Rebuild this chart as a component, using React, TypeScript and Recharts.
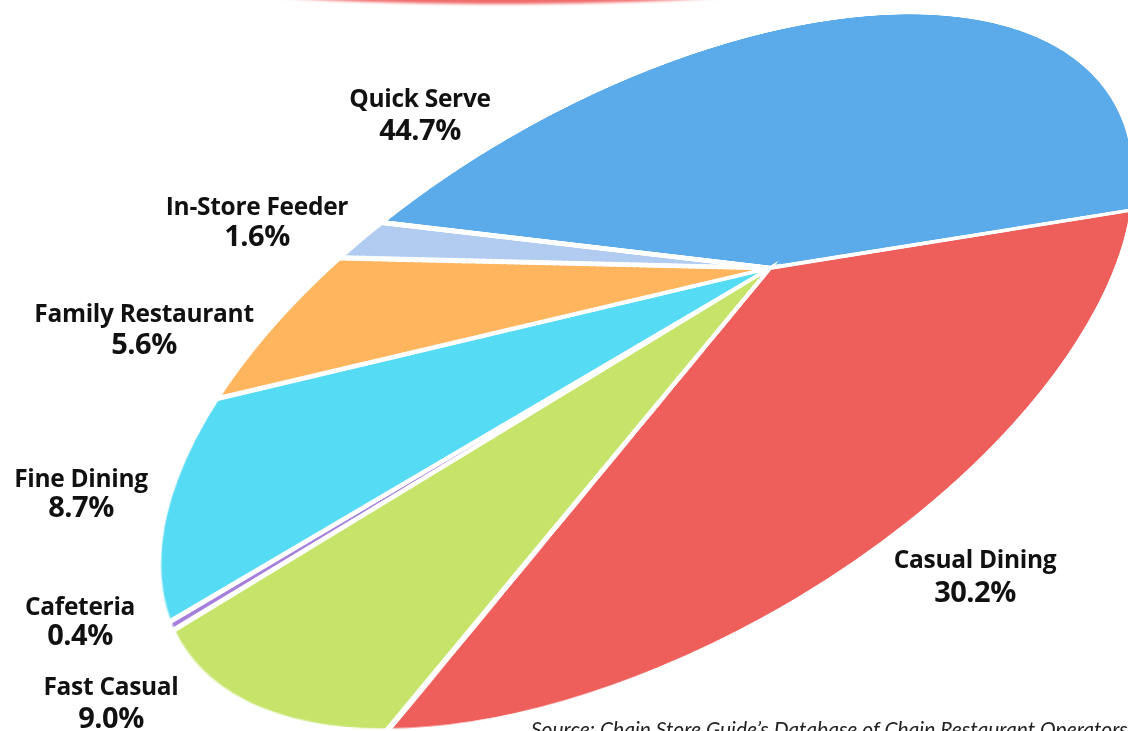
import React from 'react';
import { PieChart, Pie, Cell } from 'recharts';

// restaurant segments, share of units (%)
const segments = ['Quick Serve', 'Casual Dining', 'Fast Casual', 'Cafeteria', 'Fine Dining', 'Family Restaurant', 'In-Store Feeder'];
const shares = [44.7, 30.2, 9.0, 0.4, 8.7, 5.6, 1.6];
const colors = ['#5BAAE9', '#EE5E5A', '#C6E46A', '#A57FDB', '#55DBF4', '#FFB55E', '#B2CBF1'];

// label anchors (centre x, baseline of name, baseline of value)
const labelPos: [number, number, number][] = [
  [420, 107, 140],
  [975, 568, 602],
  [111, 695, 728],
  [80, 615, 645],
  [81, 487, 517],
  [144, 322, 354],
  [257, 215, 246],
];

const SOURCE = 'Source: Chain Store Guide\u2019s Database of Chain Restaurant Operators';

// the pie is shown tilted in perspective: outline ellipse + apex where slices meet
const ELL = { cx: 645, cy: 373, a: 543, b: 273, rot: (-30 * Math.PI) / 180 };
const APEX = [770, 268];
const FIRST_EDGE = [386, 223];

const SIZE = 600;
const C = SIZE / 2;
const R = 290;

type V3 = [number, number, number];
const cross = (p: V3, q: V3): V3 => [p[1] * q[2] - p[2] * q[1], p[2] * q[0] - p[0] * q[2], p[0] * q[1] - p[1] * q[0]];

function rayHit(px: number, py: number, dx: number, dy: number) {
  const c = Math.cos(ELL.rot), s = Math.sin(ELL.rot);
  const lx = (px - ELL.cx) * c + (py - ELL.cy) * s;
  const ly = -(px - ELL.cx) * s + (py - ELL.cy) * c;
  const ldx = dx * c + dy * s, ldy = -dx * s + dy * c;
  const A2 = ELL.a * ELL.a, B2 = ELL.b * ELL.b;
  const qa = (ldx * ldx) / A2 + (ldy * ldy) / B2;
  const qb = 2 * ((lx * ldx) / A2 + (ly * ldy) / B2);
  const qc = (lx * lx) / A2 + (ly * ly) / B2 - 1;
  const t = (-qb + Math.sqrt(qb * qb - 4 * qa * qc)) / (2 * qa);
  return [px + t * dx, py + t * dy];
}

function conic() {
  const c = Math.cos(ELL.rot), s = Math.sin(ELL.rot);
  const A2 = ELL.a * ELL.a, B2 = ELL.b * ELL.b;
  const q11 = (c * c) / A2 + (s * s) / B2;
  const q12 = (c * s) / A2 - (s * c) / B2;
  const q22 = (s * s) / A2 + (c * c) / B2;
  const g0 = q11 * ELL.cx + q12 * ELL.cy;
  const g1 = q12 * ELL.cx + q22 * ELL.cy;
  return [
    [q11, q12, -g0],
    [q12, q22, -g1],
    [-g0, -g1, ELL.cx * g0 + ELL.cy * g1 - 1],
  ];
}

function solve(A: number[][], b: number[]) {
  const n = b.length;
  const m = A.map((row, i) => [...row, b[i]]);
  for (let i = 0; i < n; i++) {
    let p = i;
    for (let k = i + 1; k < n; k++) if (Math.abs(m[k][i]) > Math.abs(m[p][i])) p = k;
    [m[i], m[p]] = [m[p], m[i]];
    for (let k = 0; k < n; k++) {
      if (k === i) continue;
      const f = m[k][i] / m[i][i];
      for (let j = i; j <= n; j++) m[k][j] -= f * m[i][j];
    }
  }
  return m.map((row, i) => row[n] / row[i]);
}

function perspective() {
  const M = conic();
  const tangent = (p: number[]): V3 => [
    M[0][0] * p[0] + M[0][1] * p[1] + M[0][2],
    M[1][0] * p[0] + M[1][1] * p[1] + M[1][2],
    M[2][0] * p[0] + M[2][1] * p[1] + M[2][2],
  ];
  const [px, py] = APEX;
  const d1 = [FIRST_EDGE[0] - px, FIRST_EDGE[1] - py];
  const e1 = rayHit(px, py, d1[0], d1[1]);
  const e2 = rayHit(px, py, -d1[0], -d1[1]);
  const pole = cross(tangent(e1), tangent(e2));
  const l = cross([px, py, 1], pole);
  let d2 = [l[1], -l[0]];
  // clockwise (screen) side of the first edge gets source point (0, 1)
  if (d2[0] * -d1[1] + d2[1] * d1[0] < 0) d2 = [-d2[0], -d2[1]];
  const e3 = rayHit(px, py, d2[0], d2[1]);
  const e4 = rayHit(px, py, -d2[0], -d2[1]);
  const src = [[1, 0], [0, 1], [-1, 0], [0, -1]];
  const dst = [e1, e3, e2, e4];
  const A: number[][] = [];
  const b: number[] = [];
  src.forEach(([x, y], i) => {
    const [X, Y] = dst[i];
    A.push([x, y, 1, 0, 0, 0, -x * X, -y * X]);
    b.push(X);
    A.push([0, 0, 0, x, y, 1, -x * Y, -y * Y]);
    b.push(Y);
  });
  const h = solve(A, b);
  const H = [
    [h[0], h[1], h[2]],
    [h[3], h[4], h[5]],
    [h[6], h[7], 1],
  ];
  // chart pixels -> unit circle -> screen
  const G = H.map((r) => [r[0] / R, r[1] / R, r[2] - ((r[0] + r[1]) * C) / R]);
  const k = G[2][2];
  const g = G.map((r) => r.map((v) => v / k));
  return `matrix3d(${g[0][0]},${g[1][0]},0,${g[2][0]},${g[0][1]},${g[1][1]},0,${g[2][1]},0,0,1,0,${g[0][2]},${g[1][2]},0,${g[2][2]})`;
}

const data = segments.map((name, i) => ({ name, value: shares[i] }));

export default function App() {
  const font = '"Open Sans", Lato, sans-serif';
  return (
    <div style={{ position: 'absolute', left: 0, top: 0, width: 1128, height: 731, overflow: 'hidden', background: '#fff' }}>
      <div
        style={{
          position: 'absolute',
          left: 100,
          top: -76,
          width: 800,
          height: 80,
          borderRadius: '50%',
          background: '#F06A6A',
          filter: 'blur(1.5px)',
        }}
      />
      <div style={{ position: 'absolute', left: 0, top: 0, width: SIZE, height: SIZE, transformOrigin: '0 0', transform: perspective() }}>
        <PieChart width={SIZE} height={SIZE} margin={{ top: 0, right: 0, bottom: 0, left: 0 }}>
          <Pie
            data={data}
            dataKey="value"
            nameKey="name"
            cx={C}
            cy={C}
            outerRadius={R}
            startAngle={0}
            endAngle={-360}
            stroke="#ffffff"
            strokeWidth={4}
            isAnimationActive={false}
          >
            {data.map((d, i) => (
              <Cell key={d.name} fill={colors[i]} />
            ))}
          </Pie>
        </PieChart>
      </div>
      <svg width={1128} height={731} style={{ position: 'absolute', left: 0, top: 0 }}>
        {segments.map((name, i) => (
          <g key={name} fontFamily={font} fontWeight={700} fill="#111" textAnchor="middle">
            <text x={labelPos[i][0]} y={labelPos[i][1]} fontSize={24.5} letterSpacing={-0.3}>
              {name}
            </text>
            <text x={labelPos[i][0]} y={labelPos[i][2]} fontSize={29} letterSpacing={-0.5}>
              {shares[i].toFixed(1)}%
            </text>
          </g>
        ))}
        <text x={531} y={737} fontFamily="Lato, sans-serif" fontStyle="italic" fontSize={21} fill="#222">
          {SOURCE}
        </text>
      </svg>
    </div>
  );
}
